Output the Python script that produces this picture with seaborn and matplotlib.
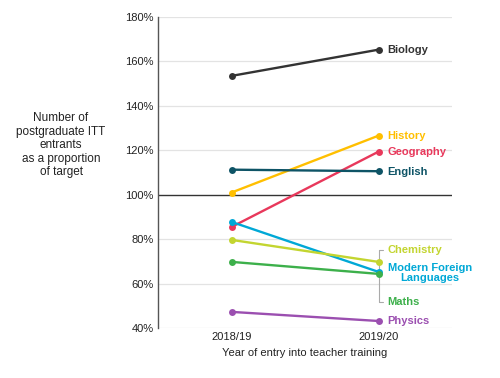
import numpy as np
import pandas as pd
import matplotlib.pyplot as plt
import seaborn as sns

# Data (proportion of target, %)
years = ['2018/19', '2019/20']
subjects = ['Biology', 'History', 'Geography', 'English', 'Modern Foreign Languages',
            'Chemistry', 'Maths', 'Physics']
y2018 = [153.5, 101.0, 85.5, 111.3, 87.8, 79.7, 69.8, 47.3]
y2019 = [165.3, 126.6, 119.4, 110.6, 65.3, 69.8, 64.4, 43.2]
colours = ['#333333', '#FFBF00', '#E8385B', '#0E5466', '#00A8D6', '#C3D530', '#3DB04B', '#9B4FB0']

rows = []
for s, a, b in zip(subjects, y2018, y2019):
    rows.append({'Subject': s, 'Year': 0, 'Value': a})
    rows.append({'Subject': s, 'Year': 1, 'Value': b})
df = pd.DataFrame(rows)
palette = dict(zip(subjects, colours))

sns.set_style('white')
plt.rcParams['font.family'] = ['Liberation Sans', 'DejaVu Sans']

fig = plt.figure(figsize=(5, 3.78), dpi=100)
ax = fig.add_axes([0.316, 0.132, 0.588, 0.823])

for t in range(40, 181, 20):
    if t == 100:
        ax.axhline(t, color='#333333', lw=1.0, zorder=1)
    else:
        ax.axhline(t, color='#e3e3e3', lw=0.9, zorder=0)

# Bracket linking Chemistry / Maths labels to their points
lab_chem, lab_maths = 75.2, 51.8
ax.plot([1.0, 1.0], [lab_chem, lab_maths], color='#aaaaaa', lw=0.8, zorder=2)
ax.plot([1.0, 1.03], [lab_chem, lab_chem], color='#aaaaaa', lw=0.8, zorder=2)
ax.plot([1.0, 1.03], [lab_maths, lab_maths], color='#aaaaaa', lw=0.8, zorder=2)

sns.lineplot(data=df, x='Year', y='Value', hue='Subject', palette=palette,
             marker='o', markersize=5, markeredgewidth=0, lw=1.7,
             legend=False, ax=ax, zorder=3)

ax.set_xlim(-0.5, 1.5)
ax.set_ylim(40, 180)
ax.set_xticks([0, 1])
ax.set_xticklabels(years, fontsize=8, color='#222222')
ax.set_yticks(range(40, 181, 20))
ax.set_yticklabels([f'{t}%' for t in range(40, 181, 20)], fontsize=8, color='#222222')
ax.tick_params(length=0, pad=3)
ax.set_xlabel('Year of entry into teacher training', fontsize=8, color='#222222')
ax.set_ylabel('')
for side in ['top', 'right', 'bottom']:
    ax.spines[side].set_visible(False)
ax.spines['left'].set_color('#555555')
ax.spines['left'].set_linewidth(1.0)

fig.text(0.122, 0.616, 'Number of\npostgraduate ITT\nentrants\nas a proportion\nof target',
         ha='center', va='center', fontsize=8.5, color='#222222', linespacing=1.15)

# Direct labels at the right
label_y = {'Biology': 165.3, 'History': 126.6, 'Geography': 119.4, 'English': 110.2,
           'Chemistry': lab_chem, 'Modern Foreign Languages': 64.9, 'Maths': lab_maths,
           'Physics': 43.2}
for s, c in zip(subjects, colours):
    if s == 'Modern Foreign Languages':
        ax.text(1.35, label_y[s], 'Modern Foreign\nLanguages', color=c, fontsize=8,
                fontweight='bold', ha='center', va='center', linespacing=1.05)
    else:
        ax.text(1.06, label_y[s], s, color=c, fontsize=8, fontweight='bold',
                ha='left', va='center')

fig.savefig('out.png', dpi=100)
